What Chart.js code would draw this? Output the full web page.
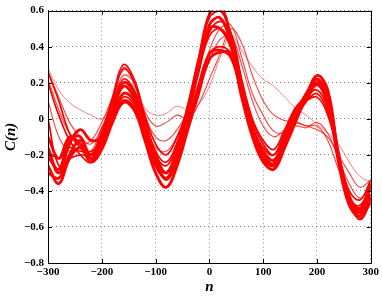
<!DOCTYPE html>
<html>
<head>
<meta charset="utf-8">
<script src="https://cdn.jsdelivr.net/npm/chart.js@4"></script>
<style>
html,body{margin:0;padding:0;background:#fff;}
#c{display:block;}
</style>
</head>
<body>
<canvas id="c" width="382" height="297"></canvas>
<script>
// lag positions n
const xs = [-300,-280,-260,-240,-220,-200,-180,-160,-140,-120,-100,-80,-60,-40,-20,0,20,40,60,80,100,120,140,160,180,200,220,240,260,280,300];
const xTicks = [-300,-200,-100,0,100,200,300];
const yTicks = [-0.8,-0.6,-0.4,-0.2,0,0.2,0.4,0.6];

// thick curves
const t1 = [-0.26,-0.36,-0.22,-0.16,-0.24,-0.17,-0.02,0.09,0.05,-0.12,-0.3,-0.38,-0.26,-0.06,0.14,0.33,0.37,0.36,0.12,-0.1,-0.24,-0.28,-0.16,-0.02,0.12,0.24,0.16,-0.2,-0.44,-0.52,-0.42];
const t2 = [-0.16,-0.3,-0.14,-0.06,-0.12,-0.1,0.05,0.2,0.15,-0.02,-0.2,-0.3,-0.17,0.06,0.32,0.58,0.62,0.46,0.2,-0.05,-0.2,-0.25,-0.12,0.02,0.12,0.22,0.12,-0.2,-0.46,-0.52,-0.38];
const t3 = [-0.3,-0.33,-0.2,-0.12,-0.2,-0.13,0.01,0.14,0.1,-0.06,-0.24,-0.33,-0.21,0.02,0.27,0.52,0.56,0.42,0.17,-0.07,-0.21,-0.25,-0.12,0.03,0.14,0.22,0.1,-0.24,-0.48,-0.54,-0.44];
const t4 = [-0.21,-0.28,-0.12,-0.1,-0.22,-0.14,0.0,0.1,0.06,-0.09,-0.26,-0.33,-0.22,-0.02,0.18,0.36,0.38,0.34,0.14,-0.08,-0.22,-0.26,-0.13,0.01,0.1,0.19,0.08,-0.22,-0.44,-0.5,-0.44];
const t5 = [-0.1,-0.22,-0.1,-0.14,-0.2,-0.1,0.04,0.18,0.12,-0.04,-0.22,-0.3,-0.18,0.04,0.28,0.5,0.5,0.4,0.16,-0.06,-0.18,-0.23,-0.1,0.04,0.12,0.2,0.1,-0.22,-0.46,-0.5,-0.36];
// medium curves
const m1 = [0.26,0.1,-0.08,-0.16,-0.22,-0.1,0.1,0.28,0.2,0.0,-0.18,-0.24,-0.13,0.08,0.34,0.56,0.6,0.46,0.18,-0.04,-0.16,-0.2,-0.08,0.06,0.12,0.16,0.06,-0.22,-0.44,-0.48,-0.36];
const m2 = [0.2,0.02,-0.12,-0.2,-0.24,-0.08,0.12,0.3,0.22,0.02,-0.14,-0.2,-0.1,0.06,0.28,0.48,0.54,0.48,0.22,0.0,-0.12,-0.17,-0.06,0.05,0.1,0.12,0.02,-0.2,-0.4,-0.45,-0.34];
const m3 = [0.0,-0.26,-0.22,-0.2,-0.2,-0.07,0.08,0.22,0.16,-0.02,-0.2,-0.26,-0.15,0.04,0.26,0.46,0.5,0.42,0.2,-0.02,-0.14,-0.2,-0.07,0.06,0.1,0.14,0.04,-0.22,-0.46,-0.56,-0.46];
const m4 = [-0.18,-0.22,-0.16,-0.18,-0.18,-0.13,0.0,0.12,0.08,-0.06,-0.24,-0.34,-0.23,-0.04,0.18,0.36,0.4,0.36,0.16,-0.06,-0.2,-0.26,-0.12,0.02,0.1,0.2,0.12,-0.18,-0.42,-0.55,-0.47];
// thin light curves
const l1 = [0.28,0.16,0.09,0.05,0.02,0.0,0.08,0.2,0.18,0.06,0.02,0.03,0.07,0.05,0.08,0.18,0.34,0.46,0.38,0.29,0.22,0.18,0.12,0.06,0.02,-0.03,-0.08,-0.14,-0.24,-0.32,-0.35];
const l2 = [0.26,0.12,-0.02,-0.1,-0.14,-0.05,0.1,0.24,0.2,0.04,-0.04,-0.02,0.02,0.0,0.08,0.22,0.36,0.5,0.42,0.24,0.1,0.02,-0.01,-0.02,-0.04,-0.06,-0.1,-0.2,-0.3,-0.38,-0.34];
const l3 = [0.22,0.05,-0.08,-0.14,-0.12,-0.02,0.12,0.27,0.22,0.02,-0.1,-0.12,-0.06,0.04,0.2,0.38,0.5,0.52,0.34,0.14,0.02,-0.07,-0.08,-0.04,-0.05,-0.02,-0.08,-0.22,-0.36,-0.44,-0.38];
const l4 = [0.1,-0.1,-0.18,-0.16,-0.18,-0.05,0.06,0.2,0.14,-0.04,-0.16,-0.18,-0.1,0.02,0.16,0.32,0.44,0.46,0.3,0.1,-0.04,-0.1,-0.06,-0.02,-0.04,-0.04,-0.12,-0.28,-0.42,-0.5,-0.42];

const groups = [
  {list:[t1,t2,t3,t4,t5], width:2.8, color:'#ff0000'},
  {list:[m1,m2,m3,m4], width:1.7, color:'#ff0000'},
  {list:[l2,l3,l4], width:1.1, color:'rgba(255,0,0,0.75)'},
  {list:[l1], width:1, color:'rgba(255,0,0,0.5)'}
];

const datasets = [];
groups.forEach((g, gi) => {
  g.list.forEach(s => {
    datasets.push({
      data: xs.map((x, i) => ({x: x, y: s[i]})),
      borderColor: g.color,
      borderWidth: g.width,
      pointRadius: 0,
      tension: 0.4,
      fill: false,
      order: gi
    });
  });
});

const fmt = v => {
  const r = Math.round(v * 10) / 10;
  const s = Math.abs(r).toString();
  return r < 0 ? '\u2212' + s : s;
};

const boxPlugin = {
  id: 'box',
  afterDraw(chart) {
    const {ctx, chartArea: a, scales: {x, y}} = chart;
    ctx.save();
    ctx.strokeStyle = '#000';
    ctx.lineWidth = 1;
    ctx.beginPath();
    ctx.rect(Math.round(a.left) + 0.5, Math.round(a.top) + 0.5, Math.round(a.right - a.left), Math.round(a.bottom - a.top));
    ctx.stroke();
    ctx.beginPath();
    const L = 4;
    xTicks.forEach(v => {
      const px = Math.round(x.getPixelForValue(v)) + 0.5;
      ctx.moveTo(px, a.bottom); ctx.lineTo(px, a.bottom - L);
      ctx.moveTo(px, a.top); ctx.lineTo(px, a.top + L);
    });
    yTicks.forEach(v => {
      const py = Math.round(y.getPixelForValue(v)) + 0.5;
      ctx.moveTo(a.left, py); ctx.lineTo(a.left + L, py);
      ctx.moveTo(a.right, py); ctx.lineTo(a.right - L, py);
    });
    ctx.stroke();
    ctx.restore();
  }
};

const tickFont = {family: "'Liberation Serif', 'Times New Roman', serif", size: 11, weight: 'bold'};
const titleFont = {family: "'Liberation Serif', 'Times New Roman', serif", size: 15, weight: 'bold', style: 'italic'};

new Chart(document.getElementById('c'), {
  type: 'line',
  data: {datasets},
  options: {
    responsive: false,
    animation: false,
    events: [],
    layout: {padding: {top: 9, right: 10, left: 0, bottom: 0}},
    plugins: {legend: {display: false}, tooltip: {enabled: false}},
    scales: {
      x: {
        type: 'linear',
        min: -300, max: 300,
        afterBuildTicks: s => { s.ticks = xTicks.map(v => ({value: v})); },
        afterFit: s => { s.height = 34; },
        grid: {color: 'rgba(0,0,0,0.45)', lineWidth: 1, drawTicks: false},
        border: {display: false, dash: [1, 3]},
        ticks: {color: '#000', font: tickFont, padding: 3, maxRotation: 0, callback: v => fmt(v)},
        title: {display: true, text: 'n', color: '#000', font: titleFont, padding: {top: 0, bottom: 1}}
      },
      y: {
        min: -0.8, max: 0.6,
        afterBuildTicks: s => { s.ticks = yTicks.map(v => ({value: v})); },
        afterFit: s => { s.width = 48; },
        grid: {color: 'rgba(0,0,0,0.45)', lineWidth: 1, drawTicks: false},
        border: {display: false, dash: [1, 3]},
        ticks: {color: '#000', font: tickFont, padding: 4, callback: v => fmt(v)},
        title: {display: true, text: 'C(n)', color: '#000', font: titleFont, padding: {top: 2, bottom: 0}}
      }
    }
  },
  plugins: [boxPlugin]
});
</script>
</body>
</html>
